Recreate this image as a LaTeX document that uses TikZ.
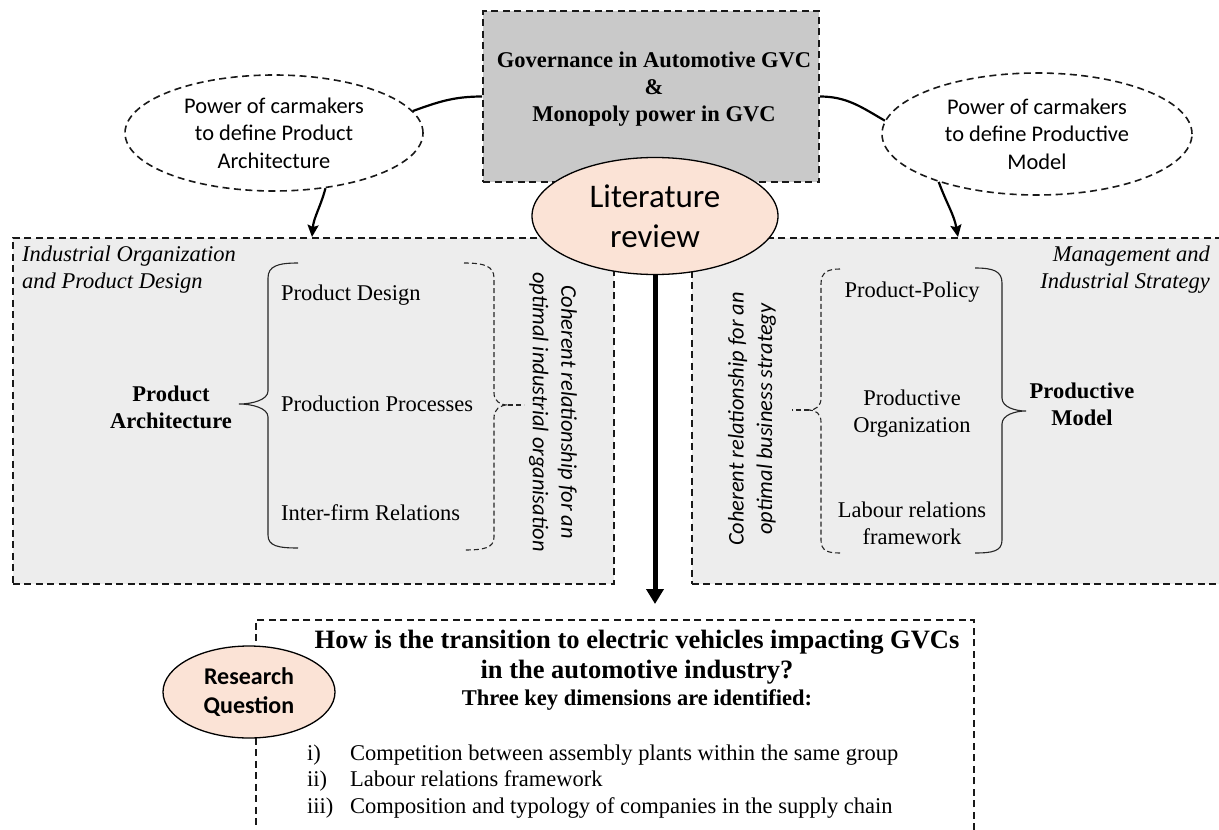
\documentclass[tikz,border=0pt]{standalone}
\usepackage{fontspec}
\setmainfont{Liberation Serif}
\newfontfamily\carlito{Carlito}
\usetikzlibrary{arrows.meta,shapes.geometric}
\definecolor{boxgray}{HTML}{C9C9C9}
\definecolor{panelgray}{HTML}{EDEDED}
\definecolor{peach}{HTML}{FBE3D6}
\newcommand\fsA{\fontsize{22.5}{27}\selectfont}
\begin{document}
\begin{tikzpicture}[x=1pt,y=-1pt,
  dashbox/.style={draw=black!90,line width=1.6pt,dash pattern=on 7pt off 4.5pt},
  panel/.style={dashbox,fill=panelgray,rectangle,inner sep=0pt,anchor=north west},
  dashell/.style={dashbox,ellipse,fill=white,inner sep=0pt,align=center,font=\carlito\fontsize{22.4}{27.5}\selectfont},
  peachell/.style={ellipse,draw=black,line width=1.3pt,fill=peach,inner sep=0pt,align=center},
  serif/.style={font=\fsA,inner sep=0pt},
  serifbf/.style={font=\fsA\bfseries,inner sep=0pt,align=center},
  serifit/.style={font=\fsA\itshape,inner sep=0pt},
  rottext/.style={font=\carlito\itshape\fontsize{22.4}{28.5}\selectfont,inner sep=0pt,align=center},
  conn/.style={line width=2.2pt,draw=black},
  brace/.style={line width=1.1pt,draw=black!85},
  dbrace/.style={line width=1.1pt,draw=black!85,dash pattern=on 5pt off 3pt},
  tip/.style={-{Stealth[length=12pt,width=11pt,inset=2pt]}}
]
\useasboundingbox (0,0) rectangle (1219,830);

% panels
\node[panel,minimum width=601,minimum height=346] (lpanel) at (12,237) {};
\node[panel,minimum width=535,minimum height=346] (rpanel) at (691,237) {};
\node[dashbox,fill=white,rectangle,inner sep=0pt,anchor=north west,minimum width=718,minimum height=240] (rq) at (255,619) {};

% governance box
\node[dashbox,fill=boxgray,rectangle,inner sep=0pt,minimum width=336,minimum height=171] (gov) at (651,96.5) {};
\node[serifbf] (govt) at (654,89) {Governance in Automotive GVC\\\&\\Monopoly power in GVC};

% power ellipses
\node[dashell,minimum width=298,minimum height=116] (lell) at (274,133) {Power of carmakers\\to define Product\\Architecture};
\node[dashell,minimum width=310,minimum height=122] (rell) at (1037,134) {Power of carmakers\\to define Productive\\Model};

\coordinate (la) at (312,237);
\coordinate (ra) at (958,237);
\coordinate (ba) at (655,604);

\draw[conn] (gov.west) to[out=180,in=20] (lell.9);
\draw[conn] (gov.east) to[out=0,in=150] (rell.175);
\draw[conn,tip] (lell.-47) to[out=-105,in=85] (la);
\draw[conn,tip] (rell.206) to[out=-70,in=100] (ra);

% left panel content
\node[serifit,align=left,anchor=west] (lhead) at (22,270) {Industrial Organization\\and Product Design};
\node[serifbf] (pa) at (171,407) {Product\\Architecture};
\node[serif,anchor=west] (pd) at (281,295) {Product Design};
\node[serif,anchor=west] (pp) at (281,404) {Production Processes};
\node[serif,anchor=west] (ir) at (281,513) {Inter-firm Relations};
\node[rottext,rotate=-90] (lrot) at (553,412) {Coherent relationship for an\\optimal industrial organisation};

\draw[brace] (298,263) .. controls (278,263) and (268,266) .. (268,278) -- (268,391)
  .. controls (268,400) and (252,404) .. (239,404)
  .. controls (252,404) and (268,408) .. (268,417) -- (268,535)
  .. controls (268,546) and (278,548) .. (298,548);
\draw[dbrace] (464,263) .. controls (484,263) and (494,266) .. (494,278) -- (494,393)
  .. controls (494,401) and (500,405) .. (508,405)
  .. controls (500,405) and (494,409) .. (494,418) -- (494,537)
  .. controls (494,548) and (484,550) .. (464,550);
\draw[dbrace] (508,405) -- (524,405);

% right panel content
\node[serifit,align=right,anchor=east] (rhead) at (1210,270) {Management and\\Industrial Strategy};
\node[serif] (ppol) at (912,292) {Product-Policy};
\node[serif,align=center] (porg) at (912,414) {Productive\\Organization};
\node[serif,align=center] (lrf) at (912,523) {Labour relations\\framework};
\node[serifbf] (pm) at (1082,404) {Productive\\Model};
\node[rottext,rotate=90] (rrot) at (752,419) {Coherent relationship for an\\optimal business strategy};

\draw[brace] (975,268) .. controls (993,268) and (1002,271) .. (1002,283) -- (1002,398)
  .. controls (1002,407) and (1015,411) .. (1026,411)
  .. controls (1015,411) and (1002,415) .. (1002,424) -- (1002,540)
  .. controls (1002,551) and (993,553) .. (975,553);
\draw[dbrace] (840,269) .. controls (828,269) and (821,272) .. (821,284) -- (821,398)
  .. controls (821,406) and (816,410) .. (809,410)
  .. controls (816,410) and (821,414) .. (821,422) -- (821,540)
  .. controls (821,551) and (828,553) .. (840,553);
\draw[dbrace] (809,410) -- (792,410);

% literature review
\node[peachell,minimum width=246,minimum height=117,font=\carlito\fontsize{33}{40}\selectfont] (lit) at (655,216) {\rule[-10pt]{0pt}{10pt}Literature\\review};
\draw[line width=5pt,-{Triangle[length=15pt,width=17pt]}] (lit.south) -- (ba);

% research question
\node[peachell,minimum width=172,minimum height=92,font=\carlito\bfseries\fontsize{24}{29}\selectfont] (rqe) at (249,692) {Research\\Question};
\node[serifbf,font=\fontsize{26.5}{30}\selectfont\bfseries] (rqh) at (637,657) {How is the transition to electric vehicles impacting GVCs\\in the automotive industry?};
\node[serifbf] (rqs) at (637,700) {Three key dimensions are identified:};
\node[serif,anchor=west] (l1) at (307,755) {\makebox[43pt][l]{i)}Competition between assembly plants within the same group};
\node[serif,anchor=west] (l2) at (307,781) {\makebox[43pt][l]{ii)}Labour relations framework};
\node[serif,anchor=west] (l3) at (307,808) {\makebox[43pt][l]{iii)}Composition and typology of companies in the supply chain};
\end{tikzpicture}
\end{document}
